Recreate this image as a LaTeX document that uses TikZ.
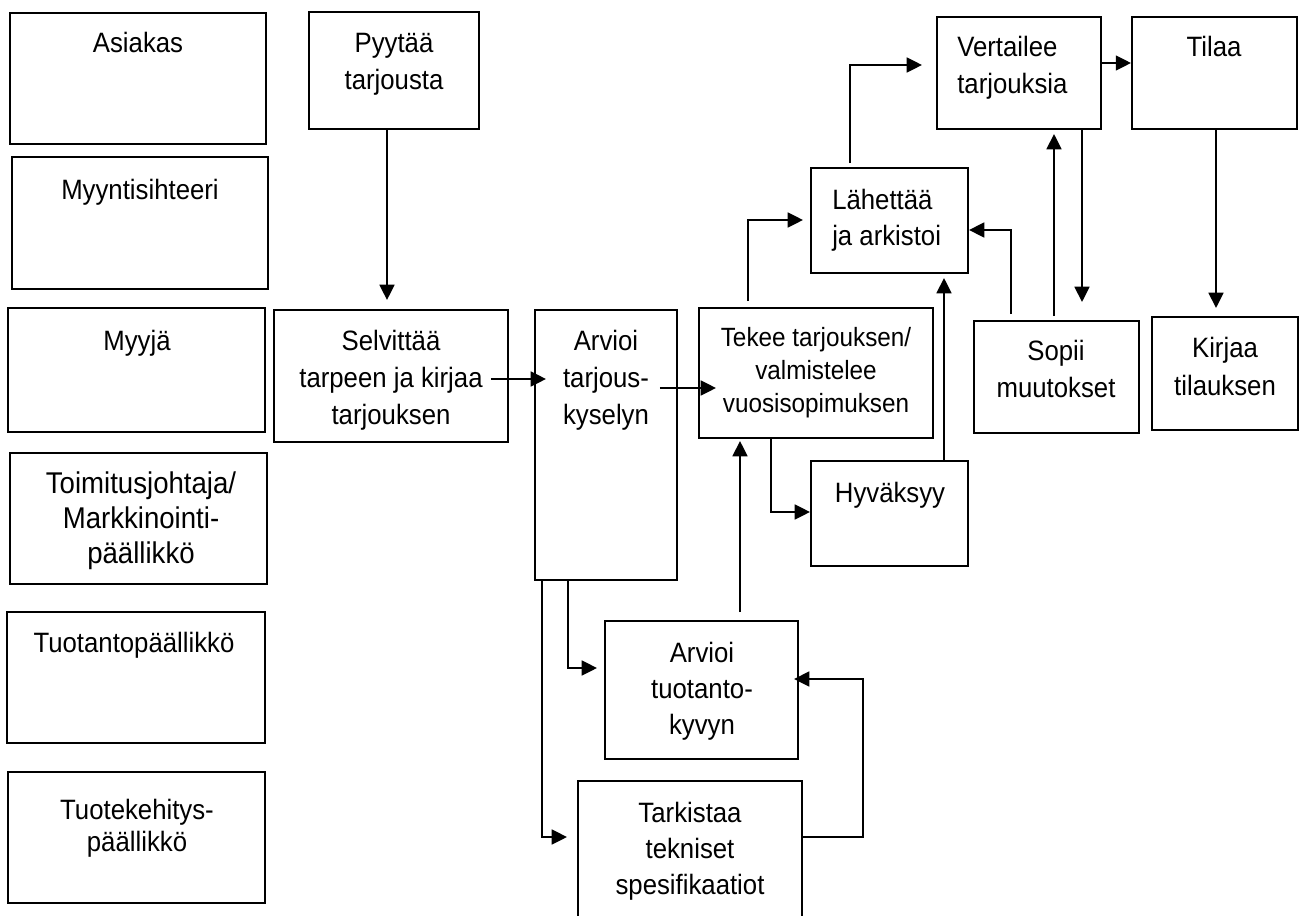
\documentclass[tikz,border=0pt]{standalone}
\usepackage{fontspec}
\setmainfont{Liberation Sans}[FakeStretch=0.92]
\usetikzlibrary{arrows.meta,fit}
\tikzset{
  box/.style={draw=black, line width=1.4pt, inner sep=0pt},
  txt/.style={inner sep=0pt, align=center, anchor=base, font=\fontsize{21pt}{#1}\selectfont},
  txt/.default=27pt,
  arr/.style={line width=1.9pt, -{Triangle[length=11.5pt,width=11pt]}},
}
\begin{document}
\begin{tikzpicture}[x=0.75pt,y=-0.75pt]
\clip (0,0) rectangle (1305,916);
\fill[white] (0,0) rectangle (1305,916);

% left column: roles (anchor = baseline of the last line)
\node[box, fit={(10,13)(266,144)}] (asiakas) {};
\node[txt] (asiakasT) at (138,53) {Asiakas};
\node[box, fit={(12,157)(268,289)}] (myyntis) {};
\node[txt] (myyntisT) at (140,200) {Myyntisihteeri};
\node[box, fit={(8,308)(265,432)}] (myyja) {};
\node[txt] (myyjaT) at (137,350) {Myyjä};
\node[box, fit={(10,453)(267,584)}] (tj) {};
\node[txt, font=\fontsize{22.5pt}{26.25pt}\selectfont] (tjT) at (141,563) {Toimitusjohtaja/\\Markkinointi-\\päällikkö};
\node[box, fit={(7,612)(265,743)}] (tuotpa) {};
\node[txt] (tuotpaT) at (134,652) {Tuotantopäällikkö};
\node[box, fit={(8,772)(265,903)}] (tuotek) {};
\node[txt=23.5pt] (tuotekT) at (137,851) {Tuotekehitys-\\päällikkö};

% process boxes
\node[box, fit={(309,12)(479,129)}] (pyytaa) {};
\node[txt=27.75pt] (pyytaaT) at (394,90) {Pyytää\\tarjousta};
\node[box, fit={(274,310)(508,442)}] (selv) {};
\node[txt=27.75pt] (selvT) at (391,424) {Selvittää\\tarpeen ja kirjaa\\tarjouksen};
\node[box, fit={(535,310)(677,580)}] (arv) {};
\node[txt=27.4pt] (arvT) at (606,424) {Arvioi\\tarjous-\\kyselyn};
\node[box, fit={(699,308)(933,438)}] (tekee) {};
\node[txt, font=\fontsize{19.8pt}{24.75pt}\selectfont] (tekeeT) at (816,412) {Tekee tarjouksen/\\valmistelee\\vuosisopimuksen};
\node[box, fit={(811,461)(968,566)}] (hyv) {};
\node[txt] (hyvT) at (890,502) {Hyväksyy};
\node[box, fit={(811,168)(968,273)}] (lah) {};
\node[txt=27.75pt, anchor=base west, align=left] (lahT) at (832,246) {Lähettää\\ja arkistoi};
\node[box, fit={(937,17)(1101,129)}] (vert) {};
\node[txt=27.75pt, anchor=base west, align=left] (vertT) at (957,94) {Vertailee\\tarjouksia};
\node[box, fit={(1132,17)(1297,129)}] (tilaa) {};
\node[txt] (tilaaT) at (1214,57) {Tilaa};
\node[box, fit={(974,321)(1139,433)}] (sopii) {};
\node[txt=27.75pt] (sopiiT) at (1056,397) {Sopii\\muutokset};
\node[box, fit={(1152,317)(1298,430)}] (kirjaa) {};
\node[txt=28.5pt] (kirjaaT) at (1225,395) {Kirjaa\\tilauksen};
\node[box, fit={(605,621)(798,759)}] (tuot) {};
\node[txt=27pt] (tuotT) at (702,734) {Arvioi\\tuotanto-\\kyvyn};
\node[box, fit={(578,781)(802,945)}] (tark) {};
\node[txt=27pt] (tarkT) at (690,894) {Tarkistaa\\tekniset\\spesifikaatiot};

\coordinate (c1) at (863,837);

% connectors
\draw[arr, shorten >=6.75pt] (pyytaa.south -| 387,0) -- (selv.north -| 387,0);
\draw[arr, shorten <=-13.5pt, shorten >=-9pt] (selv.east |- 0,379) -- (arv.west |- 0,379);
\draw[arr, shorten <=-13.5pt, shorten >=-13.5pt] (arv.east |- 0,388) -- (tekee.west |- 0,388);
\draw[arr, shorten <=4.5pt, shorten >=5.25pt] (tekee.north -| 748,0) |- (lah.west |- 0,220);
\draw[arr, shorten <=3pt, shorten >=10.5pt] (lah.north -| 850,0) |- (vert.west |- 0,65);
\draw[arr] (vert.east |- 0,63) -- (tilaa.west |- 0,63);
\draw[arr, shorten <=4.5pt] (sopii.north -| 1011,0) |- (lah.east |- 0,230);
\draw[arr, shorten <=3pt, shorten >=3pt] (sopii.north -| 1054,0) -- (vert.south -| 1054,0);
\draw[arr, shorten >=13.5pt] (vert.south -| 1082,0) -- (sopii.north -| 1082,0);
\draw[arr, shorten >=6pt] (tilaa.south -| 1216,0) -- (kirjaa.north -| 1216,0);
\draw[arr, shorten >=3pt] (hyv.north -| 944,0) -- (lah.south -| 944,0);
\draw[arr] (tekee.south -| 771,0) |- (hyv.west |- 0,512);
\draw[arr, shorten <=6pt, shorten >=1.5pt] (tuot.north -| 740,0) -- (tekee.south -| 740,0);
\draw[arr, shorten >=7.5pt] (arv.south -| 542,0) |- (tark.west |- 0,837);
\draw[arr, shorten >=5.25pt] (arv.south -| 568,0) |- (tuot.west |- 0,668);
\draw[arr, shorten >=-3.75pt] (tark.east |- c1) -- (c1) |- (tuot.east |- 0,679);
\end{tikzpicture}
\end{document}
